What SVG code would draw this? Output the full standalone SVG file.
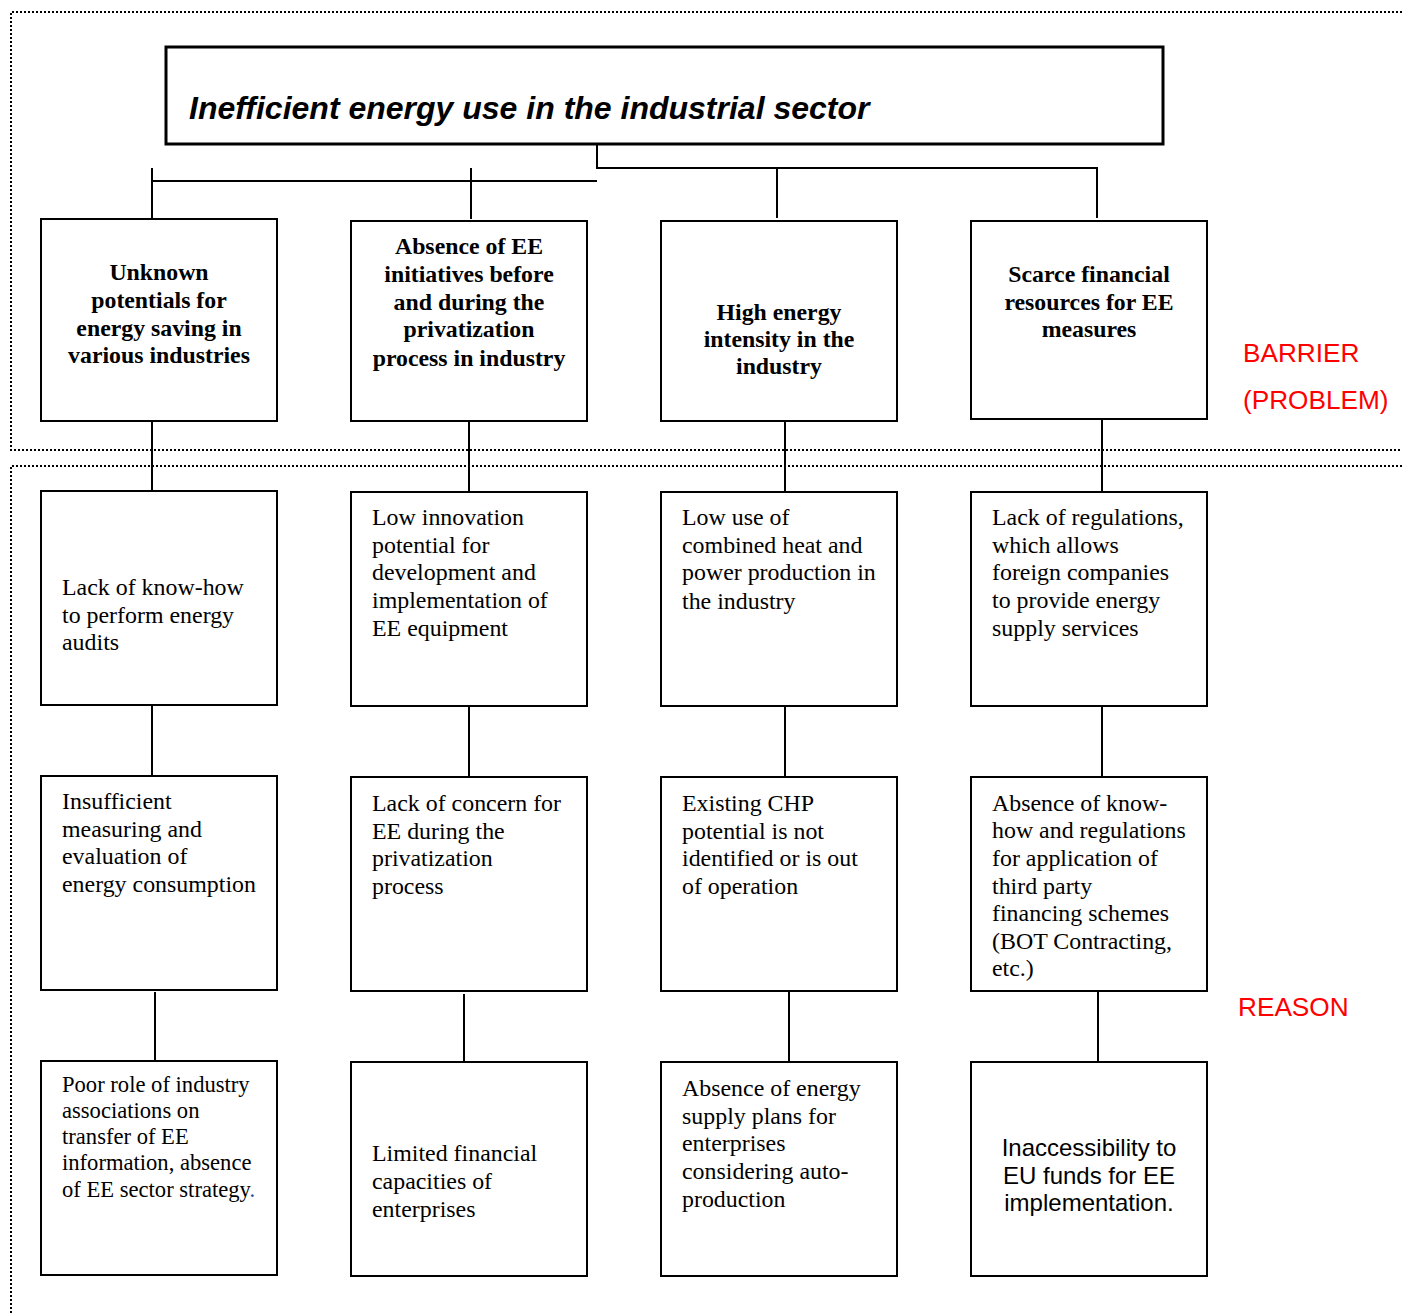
<svg xmlns="http://www.w3.org/2000/svg" width="1402" height="1313" viewBox="0 0 1402 1313">
<style>
.box{fill:#fff;stroke:#000;stroke-width:2}
.main{fill:#fff;stroke:#000;stroke-width:3}
.dot{fill:none;stroke:#000;stroke-width:2;stroke-dasharray:2 2}
.con line,.con path{stroke:#000;stroke-width:2;fill:none}
.b{font-family:"Liberation Serif",serif;font-weight:bold;font-size:23.8px;text-anchor:middle}
.t{font-family:"Liberation Serif",serif;font-size:23.9px}
.red{font-family:"Liberation Sans",sans-serif;font-size:26.2px;fill:#ff0000}
</style>
<rect width="1402" height="1313" fill="#fff"/>
<g id="zones">
<path class="dot" d="M1402 12 H11 V450 H1402"/>
<path class="dot" d="M1402 466 H11 V1313"/>
</g>
<g class="con" id="connectors">
<path d="M597 144 V168 H1097 V218"/>
<line x1="777" y1="168" x2="777" y2="218"/>
<path d="M597 181 H152"/>
<line x1="152" y1="168" x2="152" y2="218"/>
<line x1="471" y1="168" x2="471" y2="219"/>
<line x1="152" y1="421" x2="152" y2="490"/>
<line x1="469" y1="421" x2="469" y2="491"/>
<line x1="785" y1="421" x2="785" y2="491"/>
<line x1="1102" y1="419" x2="1102" y2="491"/>
<line x1="152" y1="705" x2="152" y2="776"/>
<line x1="469" y1="706" x2="469" y2="777"/>
<line x1="785" y1="706" x2="785" y2="777"/>
<line x1="1102" y1="705" x2="1102" y2="777"/>
<line x1="155" y1="992" x2="155" y2="1061"/>
<line x1="464" y1="994" x2="464" y2="1066"/>
<line x1="789" y1="992" x2="789" y2="1062"/>
<line x1="1098" y1="990" x2="1098" y2="1062"/>
</g>
<g id="main">
<rect class="main" x="166" y="47" width="997" height="97"/>
<text x="189" y="119" font-family="Liberation Sans,sans-serif" font-weight="bold" font-style="italic" font-size="32">Inefficient energy use in the industrial sector</text>
</g>
<g id="b1">
<rect class="box" x="41" y="219" width="236" height="202"/>
<text class="b"><tspan x="159" y="280">Unknown</tspan><tspan x="159" y="308">potentials for</tspan><tspan x="159" y="336">energy saving in</tspan><tspan x="159" y="363">various industries</tspan></text>
</g>
<g id="b2">
<rect class="box" x="351" y="221" width="236" height="200"/>
<text class="b"><tspan x="469" y="254">Absence of EE</tspan><tspan x="469" y="282">initiatives before</tspan><tspan x="469" y="310">and during the</tspan><tspan x="469" y="337">privatization</tspan><tspan x="469" y="366">process in industry</tspan></text>
</g>
<g id="b3">
<rect class="box" x="661" y="221" width="236" height="200"/>
<text class="b"><tspan x="779" y="320">High energy</tspan><tspan x="779" y="347">intensity in the</tspan><tspan x="779" y="374">industry</tspan></text>
</g>
<g id="b4">
<rect class="box" x="971" y="221" width="236" height="198"/>
<text class="b"><tspan x="1089" y="282">Scarce financial</tspan><tspan x="1089" y="310">resources for EE</tspan><tspan x="1089" y="337">measures</tspan></text>
</g>
<g id="r11">
<rect class="box" x="41" y="491" width="236" height="214"/>
<text class="t"><tspan x="62" y="595">Lack of know-how</tspan><tspan x="62" y="623">to perform energy</tspan><tspan x="62" y="650">audits</tspan></text>
</g>
<g id="r12">
<rect class="box" x="351" y="492" width="236" height="214"/>
<text class="t"><tspan x="372" y="525">Low innovation</tspan><tspan x="372" y="553">potential for</tspan><tspan x="372" y="580">development and</tspan><tspan x="372" y="608">implementation of</tspan><tspan x="372" y="636">EE equipment</tspan></text>
</g>
<g id="r13">
<rect class="box" x="661" y="492" width="236" height="214"/>
<text class="t"><tspan x="682" y="525">Low use of</tspan><tspan x="682" y="553">combined heat and</tspan><tspan x="682" y="580">power production in</tspan><tspan x="682" y="609">the industry</tspan></text>
</g>
<g id="r14">
<rect class="box" x="971" y="492" width="236" height="214"/>
<text class="t"><tspan x="992" y="525">Lack of regulations,</tspan><tspan x="992" y="553">which allows</tspan><tspan x="992" y="580">foreign companies</tspan><tspan x="992" y="608">to provide energy</tspan><tspan x="992" y="636">supply services</tspan></text>
</g>
<g id="r21">
<rect class="box" x="41" y="776" width="236" height="214"/>
<text class="t"><tspan x="62" y="809">Insufficient</tspan><tspan x="62" y="837">measuring and</tspan><tspan x="62" y="864">evaluation of</tspan><tspan x="62" y="892">energy consumption</tspan></text>
</g>
<g id="r22">
<rect class="box" x="351" y="777" width="236" height="214"/>
<text class="t"><tspan x="372" y="811">Lack of concern for</tspan><tspan x="372" y="839">EE during the</tspan><tspan x="372" y="866">privatization</tspan><tspan x="372" y="894">process</tspan></text>
</g>
<g id="r23">
<rect class="box" x="661" y="777" width="236" height="214"/>
<text class="t"><tspan x="682" y="811">Existing CHP</tspan><tspan x="682" y="839">potential is not</tspan><tspan x="682" y="866">identified or is out</tspan><tspan x="682" y="894">of operation</tspan></text>
</g>
<g id="r24">
<rect class="box" x="971" y="777" width="236" height="214"/>
<text class="t"><tspan x="992" y="811">Absence of know-</tspan><tspan x="992" y="838">how and regulations</tspan><tspan x="992" y="866">for application of</tspan><tspan x="992" y="894">third party</tspan><tspan x="992" y="921">financing schemes</tspan><tspan x="992" y="949">(BOT Contracting,</tspan><tspan x="992" y="976">etc.)</tspan></text>
</g>
<g id="r31">
<rect class="box" x="41" y="1061" width="236" height="214"/>
<text class="t" style="font-size:22.6px"><tspan x="62" y="1092">Poor role of industry</tspan><tspan x="62" y="1118">associations on</tspan><tspan x="62" y="1144">transfer of EE</tspan><tspan x="62" y="1170">information, absence</tspan><tspan x="62" y="1197">of EE sector strategy<tspan fill="#1f4e99">.</tspan></tspan></text>
</g>
<g id="r32">
<rect class="box" x="351" y="1062" width="236" height="214"/>
<text class="t"><tspan x="372" y="1161">Limited financial</tspan><tspan x="372" y="1189">capacities of</tspan><tspan x="372" y="1217">enterprises</tspan></text>
</g>
<g id="r33">
<rect class="box" x="661" y="1062" width="236" height="214"/>
<text class="t"><tspan x="682" y="1096">Absence of energy</tspan><tspan x="682" y="1124">supply plans for</tspan><tspan x="682" y="1151">enterprises</tspan><tspan x="682" y="1179">considering auto-</tspan><tspan x="682" y="1207">production</tspan></text>
</g>
<g id="r34">
<rect class="box" x="971" y="1062" width="236" height="214"/>
<text font-family="Liberation Sans,sans-serif" font-size="24" text-anchor="middle"><tspan x="1089" y="1156">Inaccessibility to</tspan><tspan x="1089" y="1184">EU funds for EE</tspan><tspan x="1089" y="1211">implementation.</tspan></text>
</g>
<g id="labels">
<text class="red" x="1243" y="362">BARRIER</text>
<text class="red" x="1243" y="409">(PROBLEM)</text>
<text class="red" x="1238" y="1016">REASON</text>
</g>
</svg>
